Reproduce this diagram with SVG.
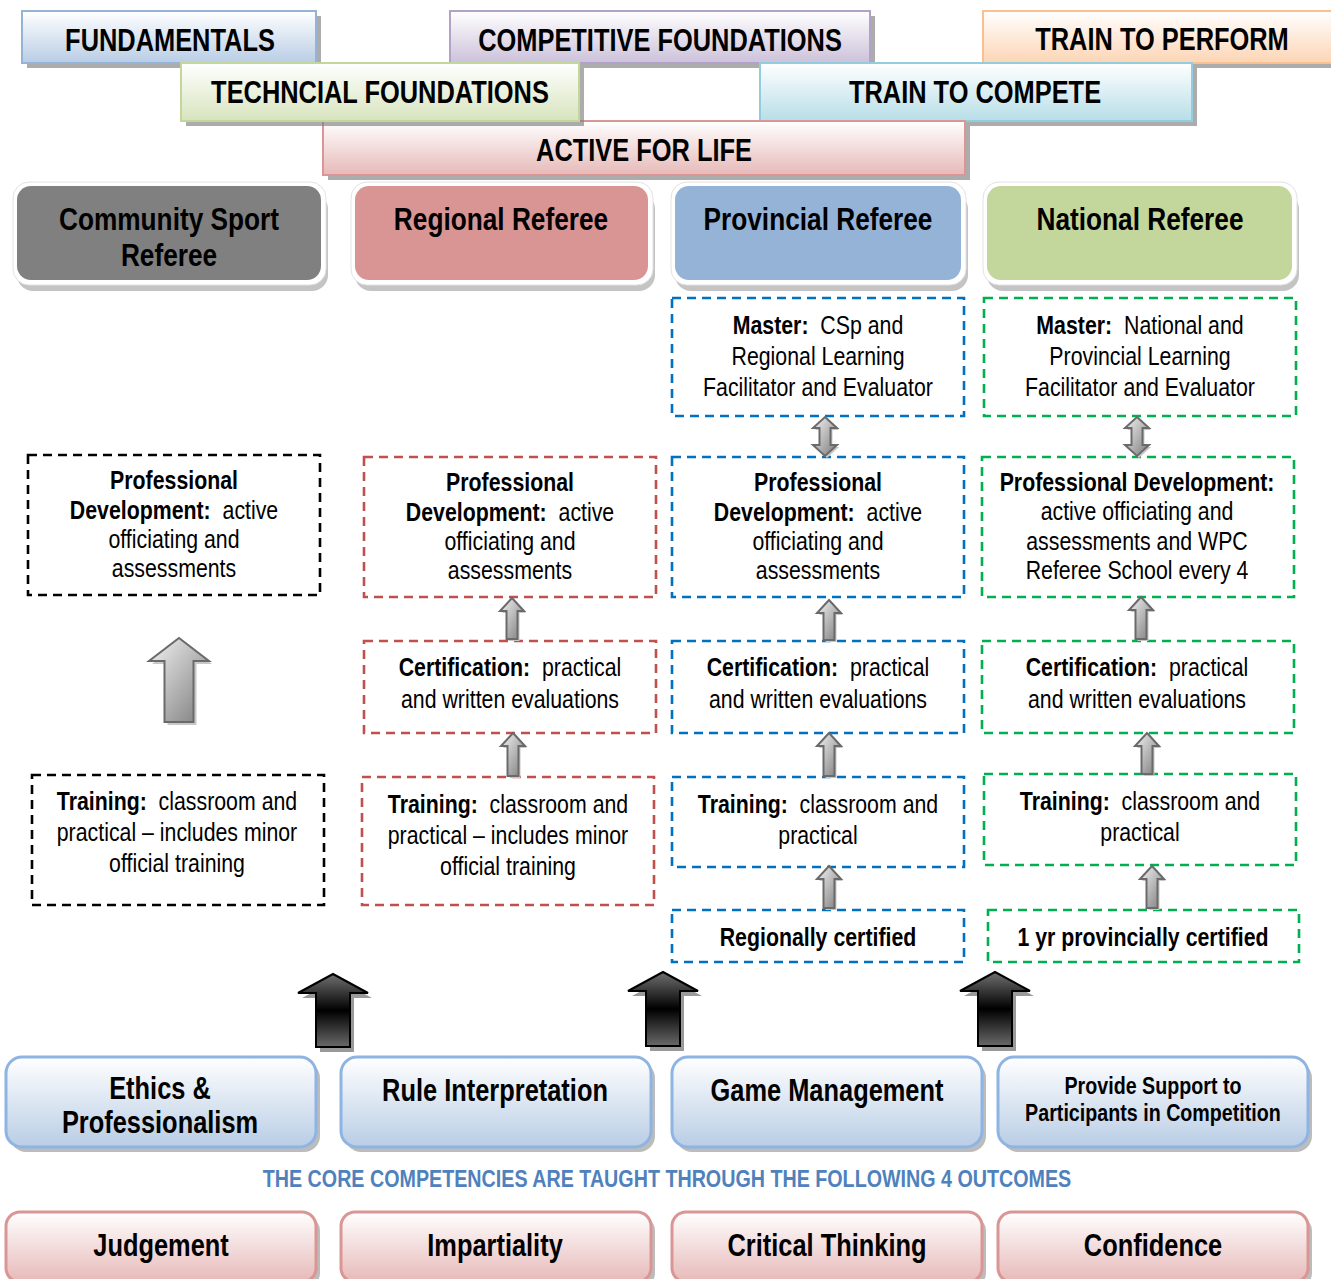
<svg xmlns="http://www.w3.org/2000/svg" width="1331" height="1279" viewBox="0 0 1331 1279">
<defs>
<linearGradient id="gBlue" x1="0" y1="0" x2="0" y2="1"><stop offset="0" stop-color="#ffffff"/><stop offset="1" stop-color="#b9cde5"/></linearGradient>
<linearGradient id="gPurple" x1="0" y1="0" x2="0" y2="1"><stop offset="0" stop-color="#ffffff"/><stop offset="1" stop-color="#ccc1da"/></linearGradient>
<linearGradient id="gOrange" x1="0" y1="0" x2="0" y2="1"><stop offset="0" stop-color="#ffffff"/><stop offset="1" stop-color="#fcd5b5"/></linearGradient>
<linearGradient id="gGreen" x1="0" y1="0" x2="0" y2="1"><stop offset="0" stop-color="#ffffff"/><stop offset="1" stop-color="#d7e4bd"/></linearGradient>
<linearGradient id="gCyan" x1="0" y1="0" x2="0" y2="1"><stop offset="0" stop-color="#ffffff"/><stop offset="1" stop-color="#b7dee8"/></linearGradient>
<linearGradient id="gPink" x1="0" y1="0" x2="0" y2="1"><stop offset="0" stop-color="#ffffff"/><stop offset="1" stop-color="#e6b9b8"/></linearGradient>
<linearGradient id="gGray" x1="0" y1="0" x2="1" y2="1"><stop offset="0" stop-color="#f4f4f4"/><stop offset="1" stop-color="#7a7a7a"/></linearGradient>
<linearGradient id="gBlack" x1="0" y1="0" x2="0" y2="1"><stop offset="0" stop-color="#707070"/><stop offset="0.5" stop-color="#000000"/><stop offset="1" stop-color="#6a6a6a"/></linearGradient>
</defs>
<style>
.t{font-family:"Liberation Sans",Arial,sans-serif;text-anchor:middle;fill:#000;white-space:pre}
.bd{font-weight:bold}
.ban{font-size:31px;font-weight:bold}
.hd{font-size:32px;font-weight:bold}
.bx{font-size:26px}
.bt{font-size:31px;font-weight:bold}
.bsh{fill:#7f7f7f;opacity:.65}
.hsh{fill:#c4c4c4}
.hwh{fill:#ffffff;stroke:#e2e2e2;stroke-width:1}
.dash{fill:none;stroke-width:2.6;stroke-dasharray:9 6}
.dk{stroke:#000}
.dr{stroke:#c0504d}
.db{stroke:#0070c0}
.dg{stroke:#00b050}
.ga{fill:url(#gGray);stroke:#6a6a6a;stroke-width:2}
.gsh{fill:#c8c8c8}
.ba{fill:url(#gBlack);stroke:#000;stroke-width:2}
.bash{fill:#9a9a9a}
.csh{fill:#8f8f8f;opacity:.6}
</style>

<!-- Banners -->
<g id="banner-fundamentals">
<rect class="bsh" x="27" y="16" width="294" height="52"/>
<rect x="22" y="11" width="294" height="52" fill="url(#gBlue)" stroke="#95b3d7" stroke-width="2"/>
<text class="t ban" transform="translate(170 51) scale(.82 1)">FUNDAMENTALS</text>
</g>
<g id="banner-competitive">
<rect class="bsh" x="455" y="16" width="420" height="52"/>
<rect x="450" y="11" width="420" height="52" fill="url(#gPurple)" stroke="#b3a2c7" stroke-width="2"/>
<text class="t ban" transform="translate(660 51) scale(.82 1)">COMPETITIVE FOUNDATIONS</text>
</g>
<g id="banner-perform">
<rect class="bsh" x="988" y="16" width="350" height="52"/>
<rect x="983" y="11" width="350" height="52" fill="url(#gOrange)" stroke="#fac090" stroke-width="2"/>
<text class="t ban" transform="translate(1162 50) scale(.82 1)">TRAIN TO PERFORM</text>
</g>
<g id="banner-compete">
<rect class="bsh" x="765" y="68" width="432" height="58"/>
<rect x="760" y="63" width="432" height="58" fill="url(#gCyan)" stroke="#93cddd" stroke-width="2"/>
<text class="t ban" transform="translate(975 103) scale(.82 1)">TRAIN TO COMPETE</text>
</g>
<g id="banner-active">
<rect class="bsh" x="328" y="126" width="642" height="54"/>
<rect x="323" y="121" width="642" height="54" fill="url(#gPink)" stroke="#d99694" stroke-width="2"/>
<text class="t ban" transform="translate(644 161) scale(.82 1)">ACTIVE FOR LIFE</text>
</g>
<g id="banner-technical">
<rect class="bsh" x="186" y="68" width="398" height="58"/>
<rect x="181" y="63" width="398" height="58" fill="url(#gGreen)" stroke="#c3d69b" stroke-width="2"/>
<text class="t ban" transform="translate(380 103) scale(.82 1)">TECHNCIAL FOUNDATIONS</text>
</g>

<!-- Header referee boxes -->
<g id="hdr-community">
<rect class="hsh" x="17" y="193" width="311" height="98" rx="16"/>
<rect class="hwh" x="13" y="182" width="313" height="103" rx="16"/>
<rect x="17" y="186" width="304" height="94" rx="14" fill="#808080"/>
<text class="t hd" transform="translate(169 230) scale(.82 1)">Community Sport</text>
<text class="t hd" transform="translate(169 266) scale(.82 1)">Referee</text>
</g>
<g id="hdr-regional">
<rect class="hsh" x="355" y="193" width="300" height="98" rx="16"/>
<rect class="hwh" x="351" y="182" width="302" height="103" rx="16"/>
<rect x="355" y="186" width="293" height="94" rx="14" fill="#d99594"/>
<text class="t hd" transform="translate(501 230) scale(.82 1)">Regional Referee</text>
</g>
<g id="hdr-provincial">
<rect class="hsh" x="675" y="193" width="293" height="98" rx="16"/>
<rect class="hwh" x="671" y="182" width="295" height="103" rx="16"/>
<rect x="675" y="186" width="286" height="94" rx="14" fill="#95b3d7"/>
<text class="t hd" transform="translate(818 230) scale(.82 1)">Provincial Referee</text>
</g>
<g id="hdr-national">
<rect class="hsh" x="987" y="193" width="312" height="98" rx="16"/>
<rect class="hwh" x="983" y="182" width="314" height="103" rx="16"/>
<rect x="987" y="186" width="305" height="94" rx="14" fill="#c3d69b"/>
<text class="t hd" transform="translate(1140 230) scale(.82 1)">National Referee</text>
</g>

<!-- Community column -->
<g id="c-profdev">
<rect class="dash dk" x="28" y="455" width="292" height="140"/>
<text class="t bx" transform="translate(174 489) scale(.82 1)"><tspan class="bd">Professional</tspan></text>
<text class="t bx" transform="translate(174 519) scale(.82 1)"><tspan class="bd">Development:</tspan>  active</text>
<text class="t bx" transform="translate(174 548) scale(.82 1)">officiating and</text>
<text class="t bx" transform="translate(174 577) scale(.82 1)">assessments</text>
</g>
<g id="c-training">
<rect class="dash dk" x="32" y="775" width="292" height="130"/>
<text class="t bx" transform="translate(177 810) scale(.82 1)"><tspan class="bd">Training:</tspan>  classroom and</text>
<text class="t bx" transform="translate(177 841) scale(.82 1)">practical – includes minor</text>
<text class="t bx" transform="translate(177 872) scale(.82 1)">official training</text>
</g>

<!-- Regional column -->
<g id="r-profdev">
<rect class="dash dr" x="364" y="457" width="292" height="140"/>
<text class="t bx" transform="translate(510 491) scale(.82 1)"><tspan class="bd">Professional</tspan></text>
<text class="t bx" transform="translate(510 521) scale(.82 1)"><tspan class="bd">Development:</tspan>  active</text>
<text class="t bx" transform="translate(510 550) scale(.82 1)">officiating and</text>
<text class="t bx" transform="translate(510 579) scale(.82 1)">assessments</text>
</g>
<g id="r-cert">
<rect class="dash dr" x="364" y="641" width="292" height="92"/>
<text class="t bx" transform="translate(510 676) scale(.82 1)"><tspan class="bd">Certification:</tspan>  practical</text>
<text class="t bx" transform="translate(510 708) scale(.82 1)">and written evaluations</text>
</g>
<g id="r-training">
<rect class="dash dr" x="362" y="777" width="292" height="128"/>
<text class="t bx" transform="translate(508 813) scale(.82 1)"><tspan class="bd">Training:</tspan>  classroom and</text>
<text class="t bx" transform="translate(508 844) scale(.82 1)">practical – includes minor</text>
<text class="t bx" transform="translate(508 875) scale(.82 1)">official training</text>
</g>

<!-- Provincial column -->
<g id="p-master">
<rect class="dash db" x="672" y="298" width="292" height="118"/>
<text class="t bx" transform="translate(818 334) scale(.82 1)"><tspan class="bd">Master:</tspan>  CSp and</text>
<text class="t bx" transform="translate(818 365) scale(.82 1)">Regional Learning</text>
<text class="t bx" transform="translate(818 396) scale(.82 1)">Facilitator and Evaluator</text>
</g>
<g id="p-profdev">
<rect class="dash db" x="672" y="457" width="292" height="140"/>
<text class="t bx" transform="translate(818 491) scale(.82 1)"><tspan class="bd">Professional</tspan></text>
<text class="t bx" transform="translate(818 521) scale(.82 1)"><tspan class="bd">Development:</tspan>  active</text>
<text class="t bx" transform="translate(818 550) scale(.82 1)">officiating and</text>
<text class="t bx" transform="translate(818 579) scale(.82 1)">assessments</text>
</g>
<g id="p-cert">
<rect class="dash db" x="672" y="641" width="292" height="92"/>
<text class="t bx" transform="translate(818 676) scale(.82 1)"><tspan class="bd">Certification:</tspan>  practical</text>
<text class="t bx" transform="translate(818 708) scale(.82 1)">and written evaluations</text>
</g>
<g id="p-training">
<rect class="dash db" x="672" y="777" width="292" height="90"/>
<text class="t bx" transform="translate(818 813) scale(.82 1)"><tspan class="bd">Training:</tspan>  classroom and</text>
<text class="t bx" transform="translate(818 844) scale(.82 1)">practical</text>
</g>
<g id="p-prereq">
<rect class="dash db" x="672" y="910" width="292" height="52"/>
<text class="t bx bd" transform="translate(818 946) scale(.82 1)">Regionally certified</text>
</g>

<!-- National column -->
<g id="n-master">
<rect class="dash dg" x="984" y="298" width="312" height="118"/>
<text class="t bx" transform="translate(1140 334) scale(.82 1)"><tspan class="bd">Master:</tspan>  National and</text>
<text class="t bx" transform="translate(1140 365) scale(.82 1)">Provincial Learning</text>
<text class="t bx" transform="translate(1140 396) scale(.82 1)">Facilitator and Evaluator</text>
</g>
<g id="n-profdev">
<rect class="dash dg" x="982" y="457" width="312" height="140"/>
<text class="t bx" transform="translate(1137 491) scale(.82 1)"><tspan class="bd">Professional Development:</tspan></text>
<text class="t bx" transform="translate(1137 520) scale(.82 1)">active officiating and</text>
<text class="t bx" transform="translate(1137 550) scale(.82 1)">assessments and WPC</text>
<text class="t bx" transform="translate(1137 579) scale(.82 1)">Referee School every 4</text>
</g>
<g id="n-cert">
<rect class="dash dg" x="982" y="641" width="312" height="92"/>
<text class="t bx" transform="translate(1137 676) scale(.82 1)"><tspan class="bd">Certification:</tspan>  practical</text>
<text class="t bx" transform="translate(1137 708) scale(.82 1)">and written evaluations</text>
</g>
<g id="n-training">
<rect class="dash dg" x="984" y="774" width="312" height="91"/>
<text class="t bx" transform="translate(1140 810) scale(.82 1)"><tspan class="bd">Training:</tspan>  classroom and</text>
<text class="t bx" transform="translate(1140 841) scale(.82 1)">practical</text>
</g>
<g id="n-prereq">
<rect class="dash dg" x="988" y="910" width="311" height="52"/>
<text class="t bx bd" transform="translate(1143 946) scale(.82 1)">1 yr provincially certified</text>
</g>

<!-- Connectors -->
<g id="connectors">
<path class="gsh" transform="translate(3 3)" d="M179,638 L209,661 L193.5,661 L193.5,722 L164.5,722 L164.5,661 L149,661 Z"/>
<path class="ga" d="M179,638 L209,661 L193.5,661 L193.5,722 L164.5,722 L164.5,661 L149,661 Z"/>
<g transform="translate(2 2)" class="gsh">
<path d="M512,598 L524,611 L517.5,611 L517.5,639 L506.5,639 L506.5,611 L500,611 Z"/>
<path d="M513,733 L525,746 L518.5,746 L518.5,776 L507.5,776 L507.5,746 L501,746 Z"/>
<path d="M829,600 L841,613 L834.5,613 L834.5,640 L823.5,640 L823.5,613 L817,613 Z"/>
<path d="M829,733 L841,746 L834.5,746 L834.5,776 L823.5,776 L823.5,746 L817,746 Z"/>
<path d="M829,866 L841,879 L834.5,879 L834.5,908 L823.5,908 L823.5,879 L817,879 Z"/>
<path d="M1141,597 L1153,610 L1146.5,610 L1146.5,639 L1135.5,639 L1135.5,610 L1129,610 Z"/>
<path d="M1147,733 L1159,746 L1152.5,746 L1152.5,774 L1141.5,774 L1141.5,746 L1135,746 Z"/>
<path d="M1152,866 L1164,879 L1157.5,879 L1157.5,908 L1146.5,908 L1146.5,879 L1140,879 Z"/>
<path d="M825,417 L837,428 L830.5,428 L830.5,445 L837,445 L825,456 L813,445 L819.5,445 L819.5,428 L813,428 Z"/>
<path d="M1137,417 L1149,428 L1142.5,428 L1142.5,445 L1149,445 L1137,456 L1125,445 L1131.5,445 L1131.5,428 L1125,428 Z"/>
</g>
<path class="ga" d="M512,598 L524,611 L517.5,611 L517.5,639 L506.5,639 L506.5,611 L500,611 Z"/>
<path class="ga" d="M513,733 L525,746 L518.5,746 L518.5,776 L507.5,776 L507.5,746 L501,746 Z"/>
<path class="ga" d="M829,600 L841,613 L834.5,613 L834.5,640 L823.5,640 L823.5,613 L817,613 Z"/>
<path class="ga" d="M829,733 L841,746 L834.5,746 L834.5,776 L823.5,776 L823.5,746 L817,746 Z"/>
<path class="ga" d="M829,866 L841,879 L834.5,879 L834.5,908 L823.5,908 L823.5,879 L817,879 Z"/>
<path class="ga" d="M1141,597 L1153,610 L1146.5,610 L1146.5,639 L1135.5,639 L1135.5,610 L1129,610 Z"/>
<path class="ga" d="M1147,733 L1159,746 L1152.5,746 L1152.5,774 L1141.5,774 L1141.5,746 L1135,746 Z"/>
<path class="ga" d="M1152,866 L1164,879 L1157.5,879 L1157.5,908 L1146.5,908 L1146.5,879 L1140,879 Z"/>
<path class="ga" d="M825,417 L837,428 L830.5,428 L830.5,445 L837,445 L825,456 L813,445 L819.5,445 L819.5,428 L813,428 Z"/>
<path class="ga" d="M1137,417 L1149,428 L1142.5,428 L1142.5,445 L1149,445 L1137,456 L1125,445 L1131.5,445 L1131.5,428 L1125,428 Z"/>
<g transform="translate(4 5)" class="bash">
<path d="M333,974 L368,993 L350,993 L350,1047 L316,1047 L316,993 L298,993 Z"/>
<path d="M663,972 L698,991 L680,991 L680,1046 L646,1046 L646,991 L628,991 Z"/>
<path d="M995,972 L1030,991 L1012,991 L1012,1046 L978,1046 L978,991 L960,991 Z"/>
</g>
<path class="ba" d="M333,974 L368,993 L350,993 L350,1047 L316,1047 L316,993 L298,993 Z"/>
<path class="ba" d="M663,972 L698,991 L680,991 L680,1046 L646,1046 L646,991 L628,991 Z"/>
<path class="ba" d="M995,972 L1030,991 L1012,991 L1012,1046 L978,1046 L978,991 L960,991 Z"/>
</g>

<!-- Core competencies -->
<g id="comp-ethics">
<rect class="csh" x="10" y="1062" width="310" height="90" rx="16"/>
<rect x="6" y="1057" width="310" height="90" rx="16" fill="url(#gBlue)" stroke="#8eb4e3" stroke-width="3"/>
<text class="t bt" transform="translate(160 1099) scale(.82 1)">Ethics &amp;</text>
<text class="t bt" transform="translate(160 1133) scale(.82 1)">Professionalism</text>
</g>
<g id="comp-rule">
<rect class="csh" x="345" y="1062" width="310" height="90" rx="16"/>
<rect x="341" y="1057" width="310" height="90" rx="16" fill="url(#gBlue)" stroke="#8eb4e3" stroke-width="3"/>
<text class="t bt" transform="translate(495 1101) scale(.82 1)">Rule Interpretation</text>
</g>
<g id="comp-game">
<rect class="csh" x="676" y="1062" width="310" height="90" rx="16"/>
<rect x="672" y="1057" width="310" height="90" rx="16" fill="url(#gBlue)" stroke="#8eb4e3" stroke-width="3"/>
<text class="t bt" transform="translate(827 1101) scale(.82 1)">Game Management</text>
</g>
<g id="comp-support">
<rect class="csh" x="1002" y="1062" width="310" height="90" rx="16"/>
<rect x="998" y="1057" width="310" height="90" rx="16" fill="url(#gBlue)" stroke="#8eb4e3" stroke-width="3"/>
<text class="t" style="font-size:24px;font-weight:bold" transform="translate(1153 1094) scale(.82 1)">Provide Support to</text>
<text class="t" style="font-size:24px;font-weight:bold" transform="translate(1153 1121) scale(.82 1)">Participants in Competition</text>
</g>

<g id="caption">
<text class="t" style="font-size:23.5px;font-weight:bold;fill:#4f81bd" transform="translate(667 1187) scale(.82 1)" textLength="986" lengthAdjust="spacingAndGlyphs">THE CORE COMPETENCIES ARE TAUGHT THROUGH THE FOLLOWING 4 OUTCOMES</text>
</g>

<!-- Outcomes -->
<g id="out-judgement">
<rect class="csh" x="10" y="1217" width="310" height="70" rx="14"/>
<rect x="6" y="1212" width="310" height="70" rx="14" fill="url(#gPink)" stroke="#d99694" stroke-width="3"/>
<text class="t bt" transform="translate(161 1256) scale(.82 1)">Judgement</text>
</g>
<g id="out-impartiality">
<rect class="csh" x="345" y="1217" width="310" height="70" rx="14"/>
<rect x="341" y="1212" width="310" height="70" rx="14" fill="url(#gPink)" stroke="#d99694" stroke-width="3"/>
<text class="t bt" transform="translate(495 1256) scale(.82 1)">Impartiality</text>
</g>
<g id="out-critical">
<rect class="csh" x="676" y="1217" width="310" height="70" rx="14"/>
<rect x="672" y="1212" width="310" height="70" rx="14" fill="url(#gPink)" stroke="#d99694" stroke-width="3"/>
<text class="t bt" transform="translate(827 1256) scale(.82 1)">Critical Thinking</text>
</g>
<g id="out-confidence">
<rect class="csh" x="1002" y="1217" width="310" height="70" rx="14"/>
<rect x="998" y="1212" width="310" height="70" rx="14" fill="url(#gPink)" stroke="#d99694" stroke-width="3"/>
<text class="t bt" transform="translate(1153 1256) scale(.82 1)">Confidence</text>
</g>
</svg>
